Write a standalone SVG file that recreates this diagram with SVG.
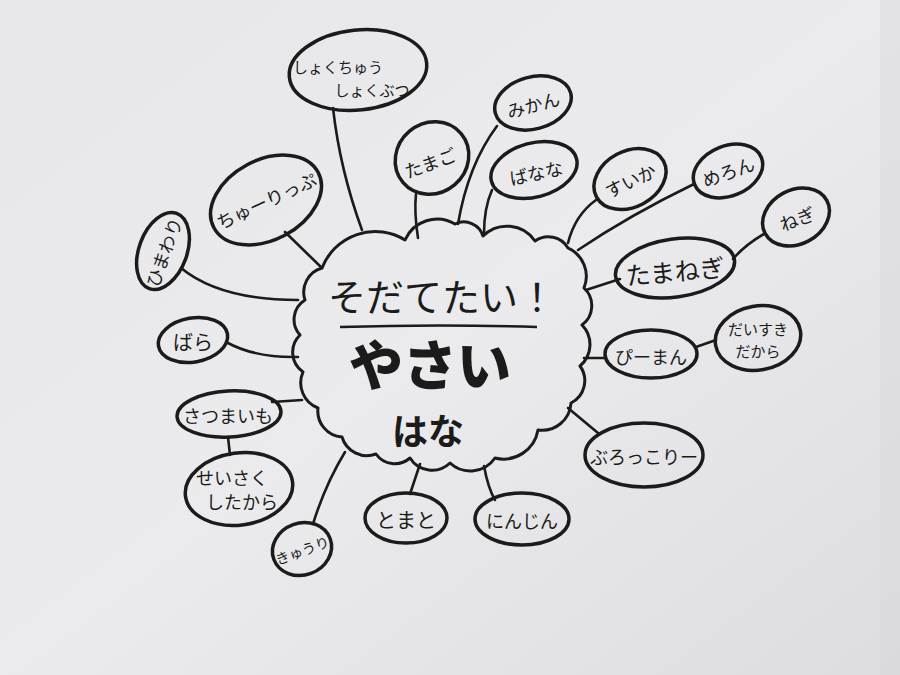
<svg xmlns="http://www.w3.org/2000/svg" width="900" height="675" viewBox="0 0 900 675">
<defs>
<linearGradient id="paper" x1="0" y1="0" x2="1" y2="1">
<stop offset="0" stop-color="#e7e7e9"/>
<stop offset="0.5" stop-color="#ebebed"/>
<stop offset="1" stop-color="#dddddf"/>
</linearGradient>
<style>
.n ellipse{fill:none;stroke:#1b1b1b;stroke-width:3.5}
.conn path{fill:none;stroke:#1b1b1b;stroke-width:2.6;stroke-linecap:round}
text{font-family:"Noto Sans CJK JP","Noto Sans",sans-serif;fill:#1b1b1b;text-anchor:middle;dominant-baseline:central}
.t{font-size:18px}
.s{font-size:15px}
</style>
</defs>
<rect width="900" height="675" fill="url(#paper)"/>
<rect x="880" y="0" width="20" height="675" fill="#d8d8da" opacity="0.4"/>

<g id="connectors" class="conn">
<path d="M333,108 Q340,170 362,230"/>
<path d="M416,194 Q414,212 418,238"/>
<path d="M497,126 Q468,165 458,224"/>
<path d="M492,190 Q484,208 484,234"/>
<path d="M596,200 Q575,215 568,243"/>
<path d="M694,184 Q630,215 578,250"/>
<path d="M764,234 Q745,245 733,259"/>
<path d="M586,290 L620,279"/>
<path d="M584,358 L606,358"/>
<path d="M696,347 L716,340"/>
<path d="M568,408 L598,433"/>
<path d="M484,466 Q488,488 495,500"/>
<path d="M420,464 L410,494"/>
<path d="M345,452 Q325,485 313,524"/>
<path d="M228,437 L230,455"/>
<path d="M272,402 L302,400"/>
<path d="M226,342 Q255,358 298,357"/>
<path d="M181,268 Q220,300 298,300"/>
<path d="M285,232 L322,268"/>
</g>

<g id="center">
<path fill="none" stroke="#1b1b1b" stroke-width="3" stroke-linejoin="round" d="M322,268 A57,57 0 0 1 405,240 A35,35 0 0 1 455,224 A20,20 0 0 1 483,236 A34,34 0 0 1 535,241 A23,23 0 0 1 568,248 A31,31 0 0 1 584,288 A24,24 0 0 1 582,325 A28,28 0 0 1 580,366 A25,25 0 0 1 571,403 A29,29 0 0 1 538,430 A35,35 0 0 1 495,458 A30,30 0 0 1 450,463 A26,26 0 0 1 410,458 A23,23 0 0 1 376,454 A26,26 0 0 1 342,437 A26,26 0 0 1 318,408 A27,27 0 0 1 303,372 A24,24 0 0 1 300,335 A23,23 0 0 1 305,300 A25,25 0 0 1 322,268 Z"/>
<text x="442" y="294" style="font-size:38px">そだてたい！</text>
<path d="M340,327 Q440,324 537,327" fill="none" stroke="#1b1b1b" stroke-width="2.6"/>
<text x="430" y="362" style="font-size:54px;font-weight:900">やさい</text>
<text x="428" y="429" style="font-size:36px;font-weight:700">はな</text>
</g>

<g id="n-shokuchu" class="n"><ellipse cx="358" cy="70" rx="69" ry="40" transform="rotate(-6 358 70)"/>
<text class="s" x="338" y="66">しょくちゅう</text><text class="s" x="372" y="89">しょくぶつ</text></g>
<g id="n-tamago" class="n"><ellipse cx="432" cy="158" rx="38" ry="35" transform="rotate(-40 432 158)"/>
<text class="t" x="430" y="162" transform="rotate(-20 430 162)">たまご</text></g>
<g id="n-mikan" class="n"><ellipse cx="533" cy="103" rx="39" ry="26" transform="rotate(-15 533 103)"/>
<text class="t" x="533" y="104" transform="rotate(-15 533 104)">みかん</text></g>
<g id="n-banana" class="n"><ellipse cx="534" cy="170" rx="44" ry="27" transform="rotate(-15 534 170)"/>
<text class="t" x="536" y="172" transform="rotate(-12 536 172)">ばなな</text></g>
<g id="n-suika" class="n"><ellipse cx="630" cy="179" rx="38" ry="28" transform="rotate(-28 630 179)"/>
<text class="t" x="630" y="180" transform="rotate(-25 630 180)">すいか</text></g>
<g id="n-meron" class="n"><ellipse cx="728" cy="171" rx="36" ry="25" transform="rotate(-22 728 171)"/>
<text class="t" x="728" y="171" transform="rotate(-20 728 171)">めろん</text></g>
<g id="n-negi" class="n"><ellipse cx="796" cy="217" rx="35" ry="27" transform="rotate(-28 796 217)"/>
<text class="t" x="797" y="218" transform="rotate(-20 797 218)">ねぎ</text></g>
<g id="n-tamanegi" class="n"><ellipse cx="675" cy="268" rx="60" ry="29" transform="rotate(-8 675 268)"/>
<text x="675" y="270" style="font-size:25px" transform="rotate(-5 675 270)">たまねぎ</text></g>
<g id="n-piman" class="n"><ellipse cx="651" cy="354" rx="46" ry="24"/>
<text class="t" x="651" y="356">ぴーまん</text></g>
<g id="n-daisuki" class="n"><ellipse cx="758" cy="338" rx="43" ry="32" transform="rotate(-10 758 338)"/>
<text class="s" x="758" y="328">だいすき</text><text class="s" x="758" y="350">だから</text></g>
<g id="n-broccoli" class="n"><ellipse cx="644" cy="455" rx="59" ry="32"/>
<text class="t" x="644" y="456">ぶろっこりー</text></g>
<g id="n-ninjin" class="n"><ellipse cx="522" cy="519" rx="47" ry="26"/>
<text class="t" x="522" y="520">にんじん</text></g>
<g id="n-tomato" class="n"><ellipse cx="406" cy="518" rx="41" ry="25"/>
<text x="406" y="519" style="font-size:20px">とまと</text></g>
<g id="n-kyuri" class="n"><ellipse cx="302" cy="549" rx="30" ry="26" transform="rotate(-20 302 549)"/>
<text x="302" y="550" style="font-size:14px" transform="rotate(-20 302 550)">きゅうり</text></g>
<g id="n-seisaku" class="n"><ellipse cx="239" cy="489" rx="54" ry="36" transform="rotate(-8 239 489)"/>
<text class="t" x="232" y="477">せいさく</text><text class="t" x="242" y="501">したから</text></g>
<g id="n-satsumaimo" class="n"><ellipse cx="229" cy="414" rx="52" ry="23" transform="rotate(-3 229 414)"/>
<text class="t" x="228" y="415">さつまいも</text></g>
<g id="n-bara" class="n"><ellipse cx="193" cy="340" rx="35" ry="22" transform="rotate(-10 193 340)"/>
<text x="193" y="341" style="font-size:20px">ばら</text></g>
<g id="n-himawari" class="n"><ellipse cx="163" cy="251" rx="24" ry="40" transform="rotate(20 163 251)"/>
<text class="t" x="163" y="252" transform="rotate(-70 163 252)">ひまわり</text></g>
<g id="n-tulip" class="n"><ellipse cx="266" cy="200" rx="59" ry="40" transform="rotate(-28 266 200)"/>
<text class="t" x="266" y="200" transform="rotate(-25 266 200)">ちゅーりっぷ</text></g>
</svg>
